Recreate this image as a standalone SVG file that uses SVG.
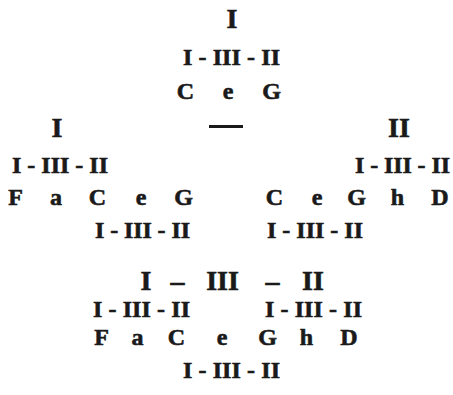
<svg xmlns="http://www.w3.org/2000/svg" width="453" height="395" viewBox="0 0 453 395">
<style>
text{font-family:"Liberation Serif","DejaVu Serif",serif;font-weight:bold;fill:#1a1a1a;stroke:#1a1a1a;stroke-width:0.6px;}
.n{font-size:24px;text-anchor:middle;}
.r{font-size:24px;}
.b{font-size:28px;text-anchor:middle;}
</style>
<rect width="453" height="395" fill="#ffffff"/>
<g id="top">
<text class="b" x="232" y="28">I</text>
<text class="r" x="183" y="65" textLength="97" lengthAdjust="spacing">I - III - II</text>
<text class="n" x="185.5" y="99">C</text>
<text class="n" x="228" y="99">e</text>
<text class="n" x="271.5" y="99">G</text>
<rect x="209" y="125" width="34" height="3" fill="#1a1a1a"/>
</g>
<g id="left">
<text class="b" x="57" y="137">I</text>
<text class="r" x="12" y="173" textLength="96" lengthAdjust="spacing">I - III - II</text>
<text class="n" x="15.5" y="205">F</text>
<text class="n" x="56" y="205">a</text>
<text class="n" x="97.5" y="205">C</text>
<text class="n" x="141" y="205">e</text>
<text class="n" x="183.5" y="205">G</text>
<text class="r" x="95" y="238" textLength="95" lengthAdjust="spacing">I - III - II</text>
</g>
<g id="right">
<text class="b" x="399" y="137">II</text>
<text class="r" x="355" y="173" textLength="95" lengthAdjust="spacing">I - III - II</text>
<text class="n" x="274.5" y="205">C</text>
<text class="n" x="317" y="205">e</text>
<text class="n" x="356.5" y="205">G</text>
<text class="n" x="397.5" y="205">h</text>
<text class="n" x="440" y="205">D</text>
<text class="r" x="267" y="238" textLength="96" lengthAdjust="spacing">I - III - II</text>
</g>
<g id="bottom">
<text class="b" x="146" y="290">I</text>
<text class="b" x="177.5" y="290">–</text>
<text class="b" x="222.5" y="290">III</text>
<text class="b" x="272.5" y="290">–</text>
<text class="b" x="313" y="290">II</text>
<text class="r" x="93" y="317" textLength="97" lengthAdjust="spacing">I - III - II</text>
<text class="r" x="265" y="317" textLength="97" lengthAdjust="spacing">I - III - II</text>
<text class="n" x="101.5" y="345">F</text>
<text class="n" x="137.5" y="345">a</text>
<text class="n" x="176.5" y="345">C</text>
<text class="n" x="222" y="345">e</text>
<text class="n" x="267.5" y="345">G</text>
<text class="n" x="306.5" y="345">h</text>
<text class="n" x="349" y="345">D</text>
<text class="r" x="183" y="378" textLength="97" lengthAdjust="spacing">I - III - II</text>
</g>
</svg>
